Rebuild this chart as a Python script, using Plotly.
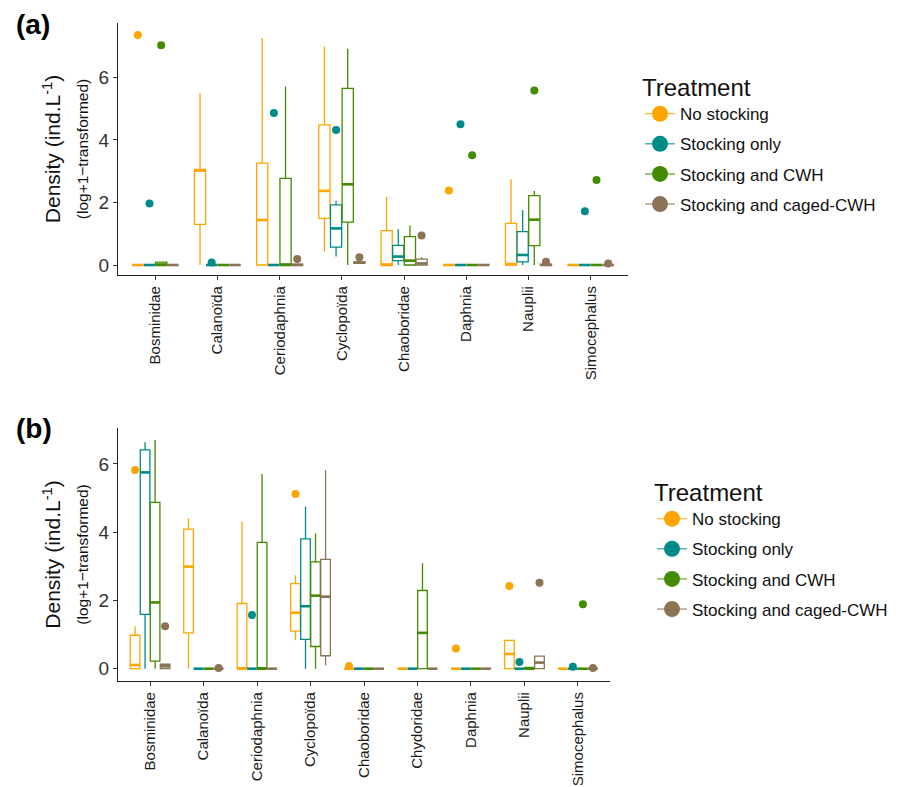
import plotly.graph_objects as go

# ---------------- data ----------------
treatments = ["No stocking", "Stocking only", "Stocking and CWH", "Stocking and caged-CWH"]
colors = ["#FFA500", "#008B8B", "#458B00", "#8B7355"]

# Panel (a)
cats_a = ["Bosminidae", "Calanoïda", "Ceriodaphnia", "Cyclopoïda", "Chaoboridae",
          "Daphnia", "Nauplii", "Simocephalus"]
a_q1 = [[0, 1.30, 0, 1.49, 0, 0, 0, 0],
        [0, 0, 0, 0.57, 0.14, 0, 0.10, 0],
        [0, 0, 0, 1.37, 0, 0, 0.62, 0],
        [0, 0, 0, 0.05, 0, 0, 0, 0]]
a_med = [[0, 3.02, 1.44, 2.37, 0, 0, 0.03, 0],
         [0, 0, 0, 1.17, 0.27, 0, 0.32, 0],
         [0, 0, 0, 2.58, 0.14, 0, 1.45, 0],
         [0, 0, 0, 0.08, 0.05, 0, 0, 0]]
a_q3 = [[0, 3.06, 3.26, 4.48, 1.10, 0, 1.33, 0],
        [0, 0, 0, 1.92, 0.63, 0, 1.07, 0],
        [0.09, 0, 2.77, 5.65, 0.91, 0, 2.22, 0],
        [0, 0, 0.03, 0.10, 0.19, 0, 0.03, 0]]
a_lo = [[0, 0, 0, 0.43, 0, 0, 0, 0],
        [0, 0, 0, 0.27, 0, 0, 0, 0],
        [0, 0, 0, 0, 0, 0, 0, 0],
        [0, 0, 0, 0.03, 0, 0, 0, 0]]
a_hi = [[0, 5.49, 7.26, 6.99, 2.18, 0, 2.74, 0],
        [0, 0, 0, 2.05, 1.14, 0, 1.75, 0],
        [0.09, 0, 5.71, 6.92, 1.26, 0, 2.37, 0],
        [0, 0, 0.05, 0.12, 0.25, 0, 0.05, 0]]
a_out = [[("Bosminidae", 7.36), ("Daphnia", 2.38)],
         [("Bosminidae", 1.97), ("Calanoïda", 0.08), ("Ceriodaphnia", 4.86),
          ("Cyclopoïda", 4.32), ("Daphnia", 4.50), ("Simocephalus", 1.72)],
         [("Bosminidae", 7.03), ("Daphnia", 3.51), ("Nauplii", 5.58), ("Simocephalus", 2.72)],
         [("Ceriodaphnia", 0.19), ("Cyclopoïda", 0.25), ("Chaoboridae", 0.94),
          ("Nauplii", 0.10), ("Simocephalus", 0.05)]]

# Panel (b)
cats_b = ["Bosminidae", "Calanoïda", "Ceriodaphnia", "Cyclopoïda", "Chaoboridae",
          "Chydoridae", "Daphnia", "Nauplii", "Simocephalus"]
b_q1 = [[0, 1.05, 0, 1.10, 0, 0, 0, 0, 0],
        [1.59, 0, 0, 0.86, 0, 0, 0, 0, 0],
        [0.22, 0, 0, 0.65, 0, 0, 0, 0, 0],
        [0, 0, 0, 0.38, 0, 0, 0, 0, 0]]
b_med = [[0.11, 2.99, 0, 1.64, 0, 0, 0, 0.43, 0],
         [5.75, 0, 0, 1.83, 0, 0, 0, 0, 0],
         [1.94, 0, 0, 2.14, 0, 1.05, 0, 0, 0],
         [0.07, 0, 0, 2.11, 0, 0, 0, 0.18, 0]]
b_q3 = [[0.98, 4.09, 1.91, 2.49, 0, 0, 0, 0.83, 0],
        [6.41, 0, 0, 3.80, 0, 0, 0, 0, 0],
        [4.87, 0, 3.70, 3.13, 0, 2.29, 0, 0.04, 0],
        [0.13, 0, 0, 3.20, 0, 0, 0, 0.37, 0]]
b_lo = [[0, 0, 0, 0.83, 0, 0, 0, 0, 0],
        [0, 0, 0, 0, 0, 0, 0, 0, 0],
        [0, 0, 0, 0, 0, 0, 0, 0, 0],
        [0, 0, 0, 0.10, 0, 0, 0, 0, 0]]
b_hi = [[1.24, 4.41, 4.31, 2.74, 0, 0, 0, 0.83, 0],
        [6.63, 0, 0, 4.75, 0, 0, 0, 0, 0],
        [6.70, 0, 5.70, 3.96, 0, 3.09, 0, 0.04, 0],
        [0.13, 0, 0, 5.81, 0, 0, 0, 0.37, 0]]
b_out = [[("Bosminidae", 5.82), ("Cyclopoïda", 5.12), ("Chaoboridae", 0.08),
          ("Daphnia", 0.59), ("Nauplii", 2.42)],
         [("Ceriodaphnia", 1.57), ("Nauplii", 0.20), ("Simocephalus", 0.06)],
         [("Simocephalus", 1.89)],
         [("Bosminidae", 1.24), ("Calanoïda", 0.02), ("Nauplii", 2.52), ("Simocephalus", 0.02)]]

# ---------------- figure ----------------
W, H = 899, 787
DODGE = 0.75
NT = len(treatments)
BOXW = DODGE / NT * 0.96
offsets = [(-DODGE / 2 + DODGE / NT * (k + 0.5)) for k in range(NT)]

fig = go.Figure()


def add_panel(cats, q1, med, q3, lo, hi, outs, xa, ya, legend, tag):
    for k, (name, col) in enumerate(zip(treatments, colors)):
        xs = [i + offsets[k] for i in range(len(cats))]
        fig.add_trace(go.Box(
            x=xs, q1=q1[k], median=med[k], q3=q3[k],
            lowerfence=lo[k], upperfence=hi[k],
            width=BOXW, whiskerwidth=0,
            line=dict(color=col, width=1.3), fillcolor="rgba(255,255,255,0)",
            showlegend=False, xaxis=xa, yaxis=ya, hoverinfo="skip"))
        # thick median segments
        mx, my = [], []
        for x0, m in zip(xs, med[k]):
            mx += [x0 - BOXW / 2, x0 + BOXW / 2, None]
            my += [m, m, None]
        fig.add_trace(go.Scatter(
            x=mx, y=my, mode="lines", line=dict(color=col, width=2.6),
            showlegend=False, xaxis=xa, yaxis=ya, hoverinfo="skip"))
        # outliers
        ox = [cats.index(c) + offsets[k] for c, v in outs[k]]
        oy = [v for c, v in outs[k]]
        fig.add_trace(go.Scatter(
            x=ox, y=oy, mode="markers", marker=dict(color=col, size=8),
            showlegend=False, xaxis=xa, yaxis=ya, hoverinfo="skip"))
        # legend key
        fig.add_trace(go.Scatter(
            x=[None], y=[None], mode="lines+markers", name=name,
            legendgroup=f"{tag}{k}",
            marker=dict(color=col, size=16), line=dict(color=col, width=1),
            legend=legend, xaxis=xa, yaxis=ya))


add_panel(cats_a, a_q1, a_med, a_q3, a_lo, a_hi, a_out, "x", "y", "legend", "a")
add_panel(cats_b, b_q1, b_med, b_q3, b_lo, b_hi, b_out, "x2", "y2", "legend2", "b")

FONT = "Liberation Sans, Arial, sans-serif"
ytitle = ("Density (ind.L<sup>-1</sup>)<br>"
          "<span style='font-size:15.5px'>(log+1\u2212transformed)</span>")

xcommon = dict(showline=True, linecolor="#222", linewidth=1.1, showgrid=False,
               zeroline=False, ticks="outside", ticklen=4, tickcolor="#333",
               tickangle=-90, tickfont=dict(size=15, color="#1a1a1a"))
ycommon = dict(showline=True, linecolor="#222", linewidth=1.1, showgrid=False,
               zeroline=False, ticks="outside", ticklen=4, tickcolor="#333",
               tickvals=[0, 2, 4, 6], tickfont=dict(size=19, color="#333"),
               title=dict(text=ytitle, font=dict(size=21, color="#111"), standoff=4))

legend_common = dict(xanchor="left", yanchor="top",
                     title=dict(text="Treatment", font=dict(size=24)),
                     font=dict(size=17), bgcolor="rgba(0,0,0,0)",
                     tracegroupgap=5)

fig.update_layout(
    width=W, height=H, margin=dict(l=0, r=0, t=0, b=0),
    paper_bgcolor="white", plot_bgcolor="white",
    font=dict(family=FONT, color="#111"),
    boxmode="overlay",
    xaxis=dict(domain=[110 / W, 620 / W], range=[-0.6, len(cats_a) - 0.4],
               tickvals=list(range(len(cats_a))), ticktext=cats_a, anchor="y", **xcommon),
    yaxis=dict(domain=[1 - 267 / H, 1 - 15 / H], range=[-0.32, 7.74], anchor="x", **ycommon),
    xaxis2=dict(domain=[110 / W, 602 / W], range=[-0.6, len(cats_b) - 0.4],
                tickvals=list(range(len(cats_b))), ticktext=cats_b, anchor="y2", **xcommon),
    yaxis2=dict(domain=[1 - 673 / H, 1 - 420 / H], range=[-0.36, 7.05], anchor="x2", **ycommon),
    legend=dict(x=632 / W, y=1 - 57 / H, **legend_common),
    legend2=dict(x=644 / W, y=1 - 462 / H, **legend_common),
    annotations=[
        dict(text="<b>(a)</b>", x=6 / W, y=1 - 17 / H, xref="paper", yref="paper",
             xanchor="left", yanchor="middle", showarrow=False, font=dict(size=28, color="black")),
        dict(text="<b>(b)</b>", x=6 / W, y=1 - 421 / H, xref="paper", yref="paper",
             xanchor="left", yanchor="middle", showarrow=False, font=dict(size=28, color="black")),
    ],
)

fig.write_html("out.html")
